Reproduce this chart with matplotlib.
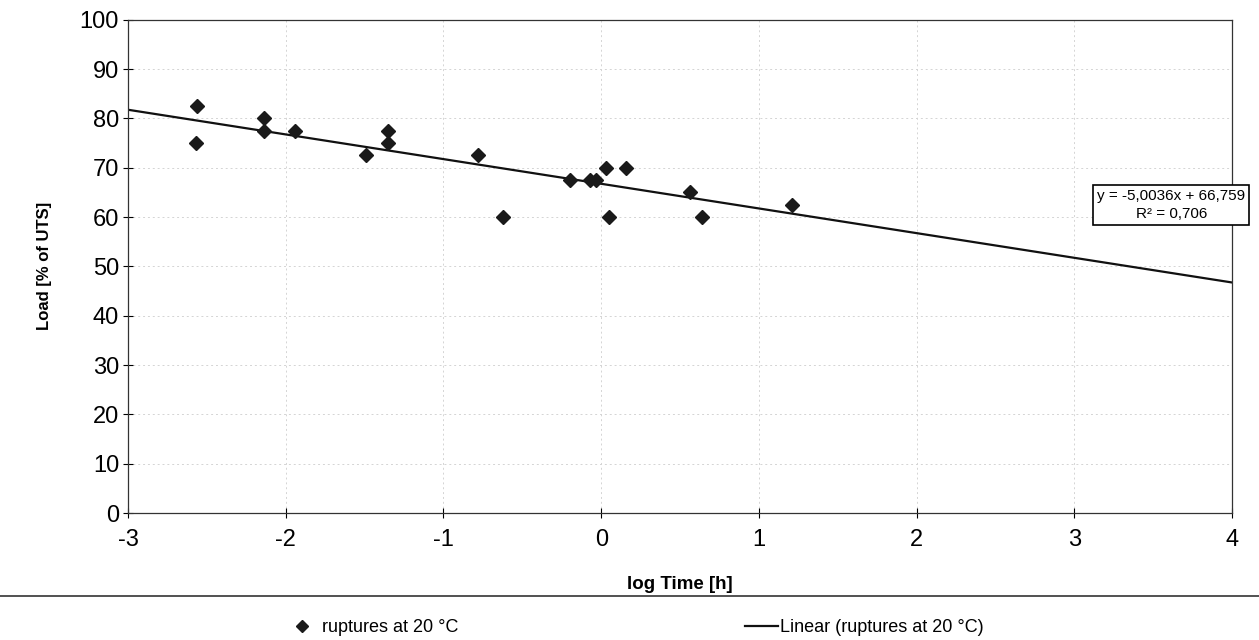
import matplotlib
matplotlib.use("Agg")
import matplotlib.pyplot as plt
from matplotlib.lines import Line2D
import numpy as np

plt.rcParams['font.family'] = ['Liberation Sans', 'DejaVu Sans']
plt.rcParams['axes.unicode_minus'] = False

# log time [h] and load [% of UTS] for the ruptures at 20 °C
log_time = [-2.56, -2.57, -2.14, -2.14, -1.94, -1.49, -1.35, -1.35,
            -0.78, -0.62, -0.20, -0.07, -0.03, 0.03, 0.05, 0.16,
            0.56, 0.64, 1.21]
load = [82.5, 75.0, 80.0, 77.5, 77.5, 72.5, 77.5, 75.0,
        72.5, 60.0, 67.5, 67.5, 67.5, 70.0, 60.0, 70.0,
        65.0, 60.0, 62.5]

# trendline as printed on the chart
slope = -5.0036
intercept = 66.759
r2_text = "0,706"
x_range = [-3, 4]

fig = plt.figure(figsize=(12.59, 6.4), dpi=100)
ax = fig.add_axes([0.1017, 0.1984, 0.8769, 0.7706])

xs = np.array(x_range, dtype=float)
ax.plot(xs, slope * xs + intercept, color='#111111', lw=1.6, zorder=2)
ax.plot(log_time, load, linestyle='none', marker='D', markersize=7,
        color='#1a1a1a', zorder=3)

ax.set_xlim(-3, 4)
ax.set_ylim(0, 100)
ax.set_xticks(range(-3, 5))
ax.set_yticks(range(0, 101, 10))
ax.tick_params(labelsize=17, direction='inout', length=7, width=0.8)
ax.tick_params(axis='x', pad=8)
ax.tick_params(axis='y', pad=3)
ax.grid(True, color='#d4d4d4', linestyle=(0, (2, 3)), linewidth=0.7)
for s in ax.spines.values():
    s.set_color('#333333')
    s.set_linewidth(0.9)

ax.set_xlabel("log Time [h]", fontsize=13.5, fontweight='bold', labelpad=18)
ax.set_ylabel("Load [% of UTS]", fontsize=12, fontweight='bold', labelpad=20)

eq = "y = %sx + %s\nR² = %s" % (
    ("%.4f" % slope).replace('.', ','), ("%.3f" % intercept).replace('.', ','), r2_text)
ax.text(0.945, 0.625, eq, transform=ax.transAxes, ha='center', va='center',
        fontsize=11, linespacing=1.4,
        bbox=dict(boxstyle='square,pad=0.25', facecolor='white',
                  edgecolor='black', linewidth=1.2), zorder=5)

# separator line above the legend
fig.add_artist(Line2D([0, 1], [0.069, 0.069], transform=fig.transFigure,
                      color='#333333', lw=1.2))

h_pts = Line2D([], [], linestyle='none', marker='D', markersize=6, color='#1a1a1a')
h_fit = Line2D([], [], color='#111111', lw=1.6)
fig.legend([h_pts], ["ruptures at 20 °C"], loc='center left',
           bbox_to_anchor=(0.2342, 0.019), frameon=False, fontsize=13,
           handlelength=0.8, handletextpad=0.7, borderpad=0, borderaxespad=0)
fig.legend([h_fit], ["Linear (ruptures at 20 °C)"], loc='center left',
           bbox_to_anchor=(0.5917, 0.019), frameon=False, fontsize=13,
           handlelength=1.83, handletextpad=0.1, borderpad=0, borderaxespad=0)

fig.savefig("out.png", dpi=100)
